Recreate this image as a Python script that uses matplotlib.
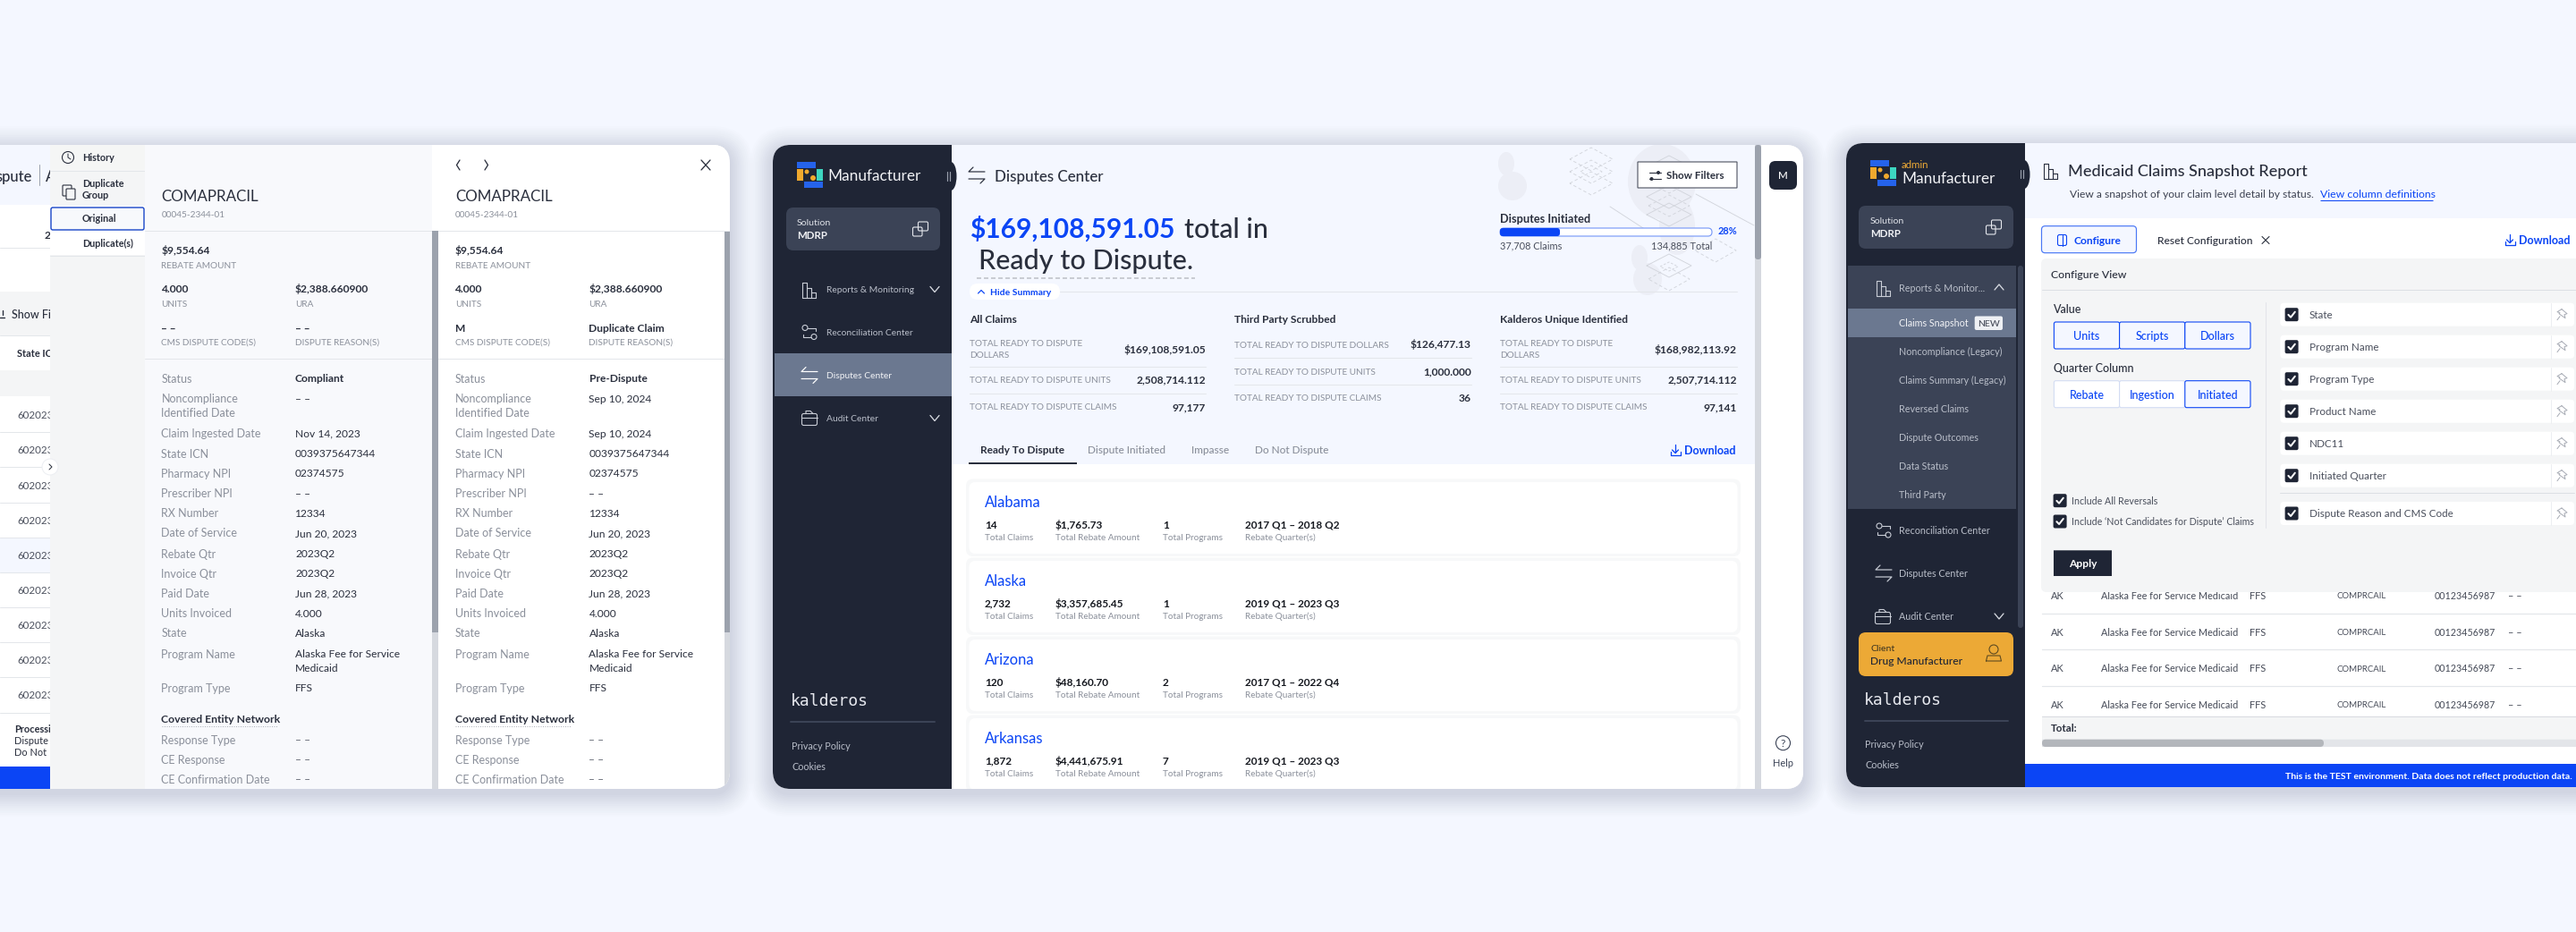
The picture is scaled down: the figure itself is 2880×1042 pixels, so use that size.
import matplotlib
matplotlib.use("Agg")
import matplotlib.pyplot as plt
from matplotlib.patches import FancyBboxPatch, Ellipse, Circle, Rectangle

plt.rcParams['font.family'] = ['Lato', 'DejaVu Sans']

# ---------- content ----------
PRODUCT = "COMAPRACIL"
NDC = "00045-2344-01"
DETAIL_LABELS = ["Status", "Noncompliance\nIdentified Date", "Claim Ingested Date", "State ICN", "Pharmacy NPI",
                 "Prescriber NPI", "RX Number", "Date of Service", "Rebate Qtr", "Invoice Qtr", "Paid Date",
                 "Units Invoiced", "State", "Program Name", "Program Type"]
ORIGINAL_VALUES = ["Compliant", "– –", "Nov 14, 2023", "0039375647344", "02374575", "– –", "12334", "Jun 20, 2023",
                   "2023Q2", "2023Q2", "Jun 28, 2023", "4.000", "Alaska", "Alaska Fee for Service\nMedicaid", "FFS"]
DUPLICATE_VALUES = ["Pre-Dispute", "Sep 10, 2024", "Sep 10, 2024", "0039375647344", "02374575", "– –", "12334",
                    "Jun 20, 2023", "2023Q2", "2023Q2", "Jun 28, 2023", "4.000", "Alaska",
                    "Alaska Fee for Service\nMedicaid", "FFS"]
CE_LABELS = ["Response Type", "CE Response", "CE Confirmation Date"]
BEHIND_IDS = ["6020231", "6020231", "6020231", "6020231", "6020231", "6020231", "6020230", "6020231", "6020230"]
ALL_CLAIMS = ["$169,108,591.05", "2,508,714.112", "97,177"]
THIRD_PARTY = ["$126,477.13", "1,000.000", "36"]
UNIQUE = ["$168,982,113.92", "2,507,714.112", "97,141"]
TABS = ["Ready To Dispute", "Dispute Initiated", "Impasse", "Do Not Dispute"]
STATES = ["Alabama", "Alaska", "Arizona", "Arkansas"]
STATE_CLAIMS = ["14", "2,732", "120", "1,872"]
STATE_REBATE = ["$1,765.73", "$3,357,685.45", "$48,160.70", "$4,441,675.91"]
STATE_PROGRAMS = ["1", "1", "2", "7"]
STATE_QUARTERS = ["2017 Q1 – 2018 Q2", "2019 Q1 – 2023 Q3", "2017 Q1 – 2022 Q4", "2019 Q1 – 2023 Q3"]
SUBMENU = ["Noncompliance (Legacy)", "Claims Summary (Legacy)", "Reversed Claims", "Dispute Outcomes", "Data Status",
           "Third Party"]
VALUE_BUTTONS = ["Units", "Scripts", "Dollars"]
QUARTER_BUTTONS = ["Rebate", "Ingestion", "Initiated"]
COLUMNS = ["State", "Program Name", "Program Type", "Product Name", "NDC11", "Initiated Quarter",
           "Dispute Reason and CMS Code"]
TABLE_ROW = ["AK", "Alaska Fee for Service Medicaid", "FFS", "COMPRCAIL", "00123456987", "– –"]

# ---------- palette ----------
BG = "#f4f7ff"; DARK = "#1f2535"; SLATE = "#3b4356"; STEEL = "#6b7890"; BLUE = "#0b45f5"
GREY = "#8b909b"; INK = "#2a2f3d"; AMBER = "#eca936"; LINE = "#e3e6ea"; PALE = "#f4f5f6"

W, H = 2880, 1042
fig = plt.figure(figsize=(W / 100, H / 100), dpi=100, facecolor=BG)
ax = fig.add_axes([0, 0, 1, 1])
ax.set_xlim(0, W); ax.set_ylim(H, 0); ax.axis("off")

z = [10]; clip = [None]
def nz():
    z[0] += 1
    return z[0]
def _c(a):
    if clip[0] is not None:
        a.set_clip_path(clip[0])
    return a
def R(x0, y0, x1, y1, fc="none", ec="none", lw=0, r=0, alpha=None):
    p = FancyBboxPatch((x0, y0), x1 - x0, y1 - y0, boxstyle=f"round,pad=0,rounding_size={r}", fc=fc, ec=ec,
                       lw=lw * .72, alpha=alpha, zorder=nz(), mutation_aspect=1)
    ax.add_patch(p); return _c(p)
def L(xs, ys, c=INK, lw=1.0, ls="-", **k):
    l, = ax.plot(xs, ys, color=c, lw=lw * .72, ls=ls, zorder=nz(), solid_capstyle=k.pop("cap", "round"), **k)
    return _c(l)
def T(x, y, s, px=12, c=INK, w="normal", ha="left", lh=None, **k):
    """y is the optical centre of the first line, px the font size in pixels."""
    lines = s.split("\n")
    for i, ln in enumerate(lines):
        t = ax.text(x, y + .36 * px + i * (lh or 16), ln, fontsize=px * .72, color=c, fontweight=w, ha=ha,
                    va="baseline", zorder=nz(), clip_on=True, **k)
        _c(t)
def C(cx, cy, r, fc="none", ec="none", lw=1.0):
    p = Circle((cx, cy), r, fc=fc, ec=ec, lw=lw * .72, zorder=nz()); ax.add_patch(p); return _c(p)
def E(cx, cy, rx, ry, fc):
    p = Ellipse((cx, cy), rx * 2, ry * 2, fc=fc, ec="none", zorder=nz()); ax.add_patch(p); return _c(p)

def shadow(x0, y0, x1, y1, r=20):
    for d in range(26, 0, -2):
        R(x0 - d, y0 - d + 5, x1 + d, y1 + d + 5, fc="#6f7a96", r=r + d, alpha=.012 + (26 - d) * .0006)

def i_bars(cx, cy, c="#c9cdd6", s=1.0):
    x = cx - 8 * s; b = cy + 8.5 * s
    L([x, x, x + 5 * s, x + 5 * s], [b, cy - 8.5 * s, cy - 8.5 * s, b], c, 1.1)
    L([x + 5 * s, x + 10 * s, x + 10 * s], [cy - 2 * s, cy - 2 * s, b], c, 1.1)
    L([x + 10 * s, x + 15 * s, x + 15 * s], [cy + 3 * s, cy + 3 * s, b], c, 1.1)
    L([x, x + 15 * s], [b, b], c, 1.1)
def i_arrows(cx, cy, c="#c9cdd6", s=1.0):
    L([cx + 9 * s, cx - 9 * s, cx - 4 * s], [cy - 4 * s, cy - 4 * s, cy - 9 * s], c, 1.2)
    L([cx - 9 * s, cx + 9 * s, cx + 4 * s], [cy + 4 * s, cy + 4 * s, cy + 9 * s], c, 1.2)
def i_recon(cx, cy, c="#c9cdd6"):
    C(cx - 5, cy - 5, 3, ec=c, lw=1.1); C(cx + 5, cy + 5, 3, ec=c, lw=1.1)
    L([cx - 2, cx + 7, cx + 7], [cy - 5, cy - 5, cy - 2], c, 1.1)
    L([cx + 2, cx - 7, cx - 7], [cy + 5, cy + 5, cy + 2], c, 1.1)
def i_case(cx, cy, c="#c9cdd6"):
    R(cx - 8.5, cy - 5, cx + 8.5, cy + 8, ec=c, lw=1.1, r=2)
    L([cx - 8.5, cx + 8.5], [cy - 1, cy - 1], c, 1.1)
    L([cx - 4, cx - 4, cx + 1, cx + 4], [cy - 5, cy - 8, cy - 8, cy - 5], c, 1.1)
def i_copy(cx, cy, c="#e6e8ee"):
    R(cx - 8.5, cy - 2, cx + 2, cy + 8, ec=c, lw=1.1, r=1.5)
    R(cx - 2.5, cy - 8, cx + 8.5, cy + 2, ec=c, lw=1.1, r=1.5)
def i_chev(cx, cy, up=False, c="#d7dae1", s=5):
    d = -1 if up else 1
    L([cx - s, cx, cx + s], [cy - d * 3, cy + d * 3, cy - d * 3], c, 1.3)
def i_download(cx, cy, c=BLUE):
    L([cx, cx], [cy - 6, cy + 3], c, 1.3); L([cx - 3.5, cx, cx + 3.5], [cy, cy + 3.5, cy], c, 1.3)
    L([cx - 5.5, cx - 5.5, cx + 5.5, cx + 5.5], [cy + 2, cy + 6, cy + 6, cy + 2], c, 1.3)
def i_check(x0, cy, s=15):
    R(x0, cy - s / 2, x0 + s, cy + s / 2, fc=DARK, r=2)
    L([x0 + 3.8, x0 + 6.5, x0 + 11.2], [cy + .2, cy + 3, cy - 3], "white", 2)
def i_pin(cx, cy, c="#a9adb6"):
    L([cx - 1, cx + 5, cx + 2, cx + 3, cx - 4, cx - 3, cx - 6, cx - 1], [cy - 6, cy - 1, cy, cy + 4, cy - 1, cy - 2, cy - 3, cy - 6], c, 1)
    L([cx - 3, cx - 6], [cy + 2, cy + 6], c, 1)
def logo(x, y):
    R(x, y, x + 21, y + 7, fc="#2563eb"); R(x, y + 8, x + 7, y + 21, fc="#f0a92e")
    C(x + 11, y + 11, 2.5, fc="#f0a92e"); C(x + 18, y + 18, 3, fc="#f0a92e")
    R(x + 22, y + 8, x + 29, y + 21, fc="#3dd6c0"); R(x + 8, y + 22, x + 29, y + 29, fc="#2563eb")
def diamond(cx, cy, hw, hh, ls="-", c="#d2d5dc"):
    L([cx - hw, cx, cx + hw, cx, cx - hw], [cy, cy - hh, cy, cy + hh, cy], c, .9, ls=ls)

# =============== CARD 1 ===============
shadow(-60, 162, 816, 882)
card1 = R(-60, 162, 816, 882, fc="white", r=20); clip[0] = card1
R(0, 162, 60, 229, fc=BG)
T(36, 197, "spute", 16.5, INK, "medium", ha="right"); L([44, 44], [184, 207], "#9ca3af", 1); T(51, 197, "A", 16.5, INK, "medium")
T(50, 263, "2", 12, INK, "bold"); L([0, 60], [277, 277], LINE)
R(0, 326, 60, 375, fc=PALE); T(13, 351, "Show Filters", 12.5, INK, "medium")
L([0, 5], [355, 355], INK, 1.4); L([2.5, 2.5], [347, 352], INK, 1.4)
L([0, 60], [375, 375], LINE); T(19, 395, "State ICN", 11, INK, "bold"); L([0, 60], [414, 414], LINE)
R(0, 414, 60, 443, fc=PALE); R(0, 601, 60, 640, fc=BG)
row_lines = [483, 522, 562, 601, 640, 679, 718, 757, 797]
row_text = [464, 503, 543, 582, 621, 660, 699, 738, 777]
for yy, txt in zip(row_text, BEHIND_IDS):
    T(19, yy, txt, 11.5, "#4a4f5c")
for yy in row_lines:
    L([0, 60], [yy, yy], LINE, 1)
T(16, 815, "Processing", 11, INK, "bold"); T(16, 828, "Dispute", 11, INK); T(16, 841, "Do Not Dispute", 11, INK)
R(0, 857, 60, 882, fc=BLUE)

# left nav of the overlay
R(56, 162, 162, 882, fc=PALE)
R(56, 162, 162, 190, fc="#f5f6f5"); L([56, 162], [190.5, 190.5], LINE)
C(76, 176, 6.5, ec=INK, lw=1.1); L([76, 76, 79], [172, 176, 178], INK, 1)
T(92, 176, "History", 10.7, INK, "bold")
R(70, 207, 80, 219, ec=INK, lw=1.1, r=1); R(74, 211, 84, 223, fc=PALE, ec=INK, lw=1.1, r=1)
T(92, 205, "Duplicate\nGroup", 10.7, INK, "bold", lh=13)
R(56, 230, 162, 285, fc="white")
R(57, 232, 161, 257, fc="#f7f9fc", ec="#1946c8", lw=1.4, r=2)
T(92, 244.5, "Original", 10.7, INK, "bold"); T(92, 272, "Duplicate(s)", 10.7, INK, "bold")
L([56, 162], [285.5, 285.5], LINE)

# duplicate-claim panels
for (px0, px1, x1, x2, vals, code, reason) in [(162, 483, 180.5, 330, ORIGINAL_VALUES, "– –", "– –"),
                                               (490, 810, 509, 658.5, DUPLICATE_VALUES, "M", "Duplicate Claim")]:
    R(px0, 162, px1, 882, fc="#f8f9fc" if px0 == 162 else "white")
    T(x1, 219, PRODUCT, 17, INK)
    T(x1, 239, NDC, 10, GREY)
    L([px0, px1 + (7 if px0 == 162 else 6)], [258, 258], LINE)
    L([px0, px1], [401, 401], LINE)
    T(x1, 280, "$9,554.64", 12, INK, "bold"); T(x1, 296, "REBATE AMOUNT", 10, GREY)
    T(x1, 323, "4.000", 12, INK, "bold"); T(x1, 339, "UNITS", 10, GREY)
    T(x2, 323, "$2,388.660900", 12, INK, "bold"); T(x2, 339, "URA", 10, GREY)
    T(x1, 367, code, 12, INK, "bold"); T(x1, 382, "CMS DISPUTE CODE(S)", 10, GREY)
    T(x2, 367, reason, 12, INK, "bold"); T(x2, 382, "DISPUTE REASON(S)", 10, GREY)
    ys = [423, 446, 484.5, 507, 529, 552, 574, 596, 619, 641, 663.5, 686, 708, 731, 769]
    for i, (yy, lab, v) in enumerate(zip(ys, DETAIL_LABELS, vals)):
        T(x1, yy, lab, 12.5, GREY)
        T(x2, yy, v, 12, INK, "bold" if i == 0 else "normal")
    T(x1, 804, "Covered Entity Network", 12.3, INK, "bold")
    L([x1, x1 + 129], [811.5, 811.5], "#aeb2bb", 1, ls=(0, (1, 1.5)))
    for yy, lab in zip([827, 849, 871], CE_LABELS):
        T(x1, yy, lab, 12.5, GREY); T(x2, yy, "– –", 12, "#5a5f6b")
for sx in (483, 810):
    R(sx, 258, sx + 7, 882, fc="#d6d9df")
    R(sx, 258, sx + 7, 707, fc="#9ca2ad")
R(490, 162, 810, 258, fc="white")
L([514, 510.5, 514], [179, 184.5, 190], INK, 1.3); L([542, 545.5, 542], [179, 184.5, 190], INK, 1.3)
L([784, 794], [179, 190], INK, 1.3); L([794, 784], [179, 190], INK, 1.3)
T(509, 219, PRODUCT, 17, INK); T(509, 239, NDC, 10, GREY); L([490, 816], [258, 258], LINE)
C(56, 522, 9, fc="white", ec="#eceef2"); L([55, 58, 55], [519, 522, 525], INK, 1)
clip[0] = None

# =============== CARD 2 ===============
shadow(864, 162, 2016, 882)
card2 = R(864, 162, 2016, 882, fc="white", r=20); clip[0] = card2
R(1064, 162, 1962, 519, fc=BG)
R(1064, 519, 1962, 882, fc="white")
# decoration
for cx, cy, rx, ry in [(1691, 208, 16, 16), (1684, 183, 9, 13), (1858, 203, 38, 42), (1875, 253, 20, 32),
                       (1842, 312, 16, 18), (1833, 288, 9, 14)]:
    E(cx, cy, rx, ry, "#eceef6")
for cy in (178, 192, 205):
    diamond(1779, cy, 24, 13, ls=(0, (4, 3)))
diamond(1779, 192, 12, 7, ls=(0, (4, 3)))
for cy in (187, 220, 240):
    diamond(1866, cy, 25, 13)
for cy in (204, 230):
    diamond(1866, cy, 23, 12, ls=(0, (4, 3)))
diamond(1866, 297, 25, 13); diamond(1866, 298, 10, 5, ls=(0, (3, 2))); diamond(1866, 312, 23, 13, ls=(0, (4, 3)))
diamond(1918, 280, 23, 13, ls=(0, (4, 3)))
L([1800, 1837], [231, 255], "#d2d5dc", .9); L([1896, 1961], [217, 252], "#d2d5dc", .9)
# sidebar
R(864, 162, 1064, 882, fc=DARK)
E(1063, 197, 6.5, 16, DARK)
L([1058.5, 1058.5], [192, 202], "#9aa0ad", 1.2); L([1061.5, 1061.5], [192, 202], "#9aa0ad", 1.2)
logo(891, 181)
T(925, 196, "Manufacturer", 17.2, "#f2f3f6")
R(879, 232, 1051, 280, fc=SLATE, r=8)
T(891, 248, "Solution", 10.5, "#dfe2e8"); T(891, 263, "MDRP", 11.5, "#f2f3f6", "bold"); i_copy(1029, 256)
i_bars(905, 324); T(923.5, 323.7, "Reports & Monitoring", 10.3, "#b9bec9"); i_chev(1045, 323.5)
i_recon(905, 371.5); T(923.5, 371.7, "Reconciliation Center", 10.3, "#b9bec9")
R(866, 395, 1064, 443, fc=STEEL); i_arrows(905, 419.5, "white"); T(923.5, 419.7, "Disputes Center", 10.3, "#f2f3f6")
i_case(905, 467.5); T(923.5, 467.7, "Audit Center", 10.3, "#b9bec9"); i_chev(1045, 467.5)
T(884, 783, "kalderos", 18, "#e6e8ee", family="DejaVu Sans Mono")
L([884, 1045], [807, 807], SLATE, 2)
T(885, 834, "Privacy Policy", 10.8, "#b9bec9"); T(885, 857, "Cookies", 10.8, "#b9bec9")
# header
i_arrows(1092, 196, INK); T(1112.5, 197, "Disputes Center", 17, INK, "medium")
T(1084, 255, ALL_CLAIMS[0], 30, BLUE, "bold"); T(1324, 255, "total in", 30.5, INK, "medium")
T(1094, 290.5, "Ready to Dispute.", 30.5, INK, "medium")
L([1092, 1336], [311, 311], "#c9ccd3", 2, ls=(0, (2.5, 1.5)), cap="butt")
L([1185, 1942], [325.5, 325.5], LINE)
R(1084, 317, 1185, 335, fc="white", ec="#e6e8ec", r=9)
L([1093.5, 1097, 1100.5], [328, 324.5, 328], BLUE, 1.2); T(1107, 326, "Hide Summary", 10.4, BLUE, "bold")
# progress
T(1677, 244, "Disputes Initiated", 12.7, INK, "bold")
R(1677, 255, 1914, 264, fc="white", ec="#7c9cf7", lw=1.2, r=4.5)
R(1677, 255, 1744, 264, fc=BLUE, r=3)
T(1921, 258, "28%", 11, BLUE, "bold"); T(1677, 274, "37,708 Claims", 11, "#4a4f5c"); T(1914, 274, "134,885 Total", 11, "#4a4f5c", ha="right")
R(1831, 181, 1942, 210, fc="white", ec="#4a4f5c", lw=1.1)
L([1844, 1857], [193, 193], INK, 1.1); L([1844, 1857], [200, 200], INK, 1.1)
C(1854, 193, 2, fc=INK); C(1846.5, 200, 2, fc=INK)
T(1863, 196, "Show Filters", 11.6, INK, "bold")
# summary tables
for x0, x1, title in [(1084, 1348, "All Claims"), (1380, 1645, "Third Party Scrubbed"), (1677, 1942, "Kalderos Unique Identified")]:
    T(x0, 357, title, 12, INK, "bold")
for x0, x1, vals in [(1084, 1348, ALL_CLAIMS), (1677, 1942, UNIQUE)]:
    T(x0, 383.7, "TOTAL READY TO DISPUTE\nDOLLARS", 10, GREY, lh=13); T(x1, 390.7, vals[0], 12, INK, "bold", ha="right")
    L([x0, x1], [409.5, 409.5], LINE)
    T(x0, 424, "TOTAL READY TO DISPUTE UNITS", 10, GREY); T(x1, 424.5, vals[1], 12, INK, "bold", ha="right")
    L([x0, x1], [439.5, 439.5], LINE)
    T(x0, 454.5, "TOTAL READY TO DISPUTE CLAIMS", 10, GREY); T(x1, 455, vals[2], 12, INK, "bold", ha="right")
T(1380, 385, "TOTAL READY TO DISPUTE DOLLARS", 10, GREY); T(1645, 385, THIRD_PARTY[0], 12, INK, "bold", ha="right")
L([1380, 1645], [400, 400], LINE)
T(1380, 415, "TOTAL READY TO DISPUTE UNITS", 10, GREY); T(1645, 415, THIRD_PARTY[1], 12, INK, "bold", ha="right")
L([1380, 1645], [429.5, 429.5], LINE)
T(1380, 444.5, "TOTAL READY TO DISPUTE CLAIMS", 10, GREY); T(1645, 445, THIRD_PARTY[2], 12, INK, "bold", ha="right")
# tabs
for x, lab, col, wt in zip([1096.4, 1216, 1332, 1403], TABS, [INK, GREY, GREY, GREY], ["bold", "medium", "medium", "medium"]):
    T(x, 503, lab, 11.9, col, wt)
L([1083, 1204], [518, 518], INK, 2, cap="butt")
i_download(1873, 503); T(1883, 503, "Download", 12.5, BLUE, "bold")
# state cards
for i, st in enumerate(STATES):
    dy = 88 * i
    R(1080, 535.5 + dy, 1946, 622 + dy, fc="#f7f8f9", r=8)
    R(1083.5, 539 + dy, 1942.5, 619 + dy, fc="white", r=7)
    T(1101, 561 + dy, st, 16.5, BLUE)
    for x, val, lab in zip([1101, 1180, 1300, 1392], [STATE_CLAIMS[i], STATE_REBATE[i], STATE_PROGRAMS[i], STATE_QUARTERS[i]],
                           ["Total Claims", "Total Rebate Amount", "Total Programs", "Rebate Quarter(s)"]):
        T(x, 586.5 + dy, val, 11.7, "#15181f", "bold"); T(x, 600.5 + dy, lab, 10, GREY)
# scrollbar + rail
R(1962, 162, 1969, 882, fc="#d6d9df"); R(1962, 162, 1969, 290, fc="#9ca2ad", r=3)
R(1969, 162, 2016, 882, fc="white")
R(1978, 180, 2009, 212, fc=DARK, r=7); T(1993.5, 196, "M", 11.5, "white", "medium", ha="center")
C(1993.5, 830.7, 8, ec=SLATE, lw=1.1); T(1993.5, 830.5, "?", 12, SLATE, ha="center")
T(1993.5, 853, "Help", 11, SLATE, ha="center")
clip[0] = None

# =============== CARD 3 ===============
shadow(2064, 160, 2940, 880)
card3 = R(2064, 160, 2940, 880, fc="white", r=20); clip[0] = card3
R(2264, 160, 2880, 244, fc=BG)
R(2064, 160, 2264, 880, fc=DARK)
E(2263, 195, 6.5, 16, DARK)
L([2259, 2259], [190, 199], "#9aa0ad", 1.2); L([2262, 2262], [190, 199], "#9aa0ad", 1.2)
logo(2091, 179)
T(2126, 184, "admin", 11.5, AMBER); T(2126, 199, "Manufacturer", 17.2, "#f2f3f6")
R(2078, 230, 2251, 278, fc=SLATE, r=8)
T(2091, 246, "Solution", 10.5, "#dfe2e8"); T(2091, 261, "MDRP", 11.5, "#f2f3f6", "bold"); i_copy(2229, 254)
R(2066, 297, 2254, 569, fc=SLATE)
R(2256, 297, 2262, 702, fc=SLATE, r=3)
i_bars(2106, 322); T(2123, 321.7, "Reports & Monitor...", 10.8, "#b9bec9"); i_chev(2235, 321, up=True)
R(2066, 345, 2254, 377, fc=STEEL); T(2123, 361.5, "Claims Snapshot", 10.8, "#f2f3f6")
R(2207.7, 353.5, 2239, 369, fc="#eef0f4", r=2); T(2223.3, 361.5, "NEW", 10.5, "#4a4f5c", "medium", ha="center")
for yy, lab in zip([393.5, 425.5, 457.5, 489.5, 521.5, 553], SUBMENU):
    T(2123, yy, lab, 10.8, "#b9bec9")
i_recon(2106, 593); T(2123, 593, "Reconciliation Center", 10.8, "#b9bec9")
i_arrows(2106, 641, "#c9cdd6"); T(2123, 641.5, "Disputes Center", 10.8, "#b9bec9")
i_case(2105, 689.5); T(2123, 689.5, "Audit Center", 10.8, "#b9bec9"); i_chev(2235, 689)
R(2078, 707, 2251, 756, fc=AMBER, r=8)
T(2091, 724, "Client", 10.5, "#3a3320"); T(2091, 739, "Drug Manufacturer", 12, DARK, "medium")
C(2229, 726, 5, ec="#5d4a20", lw=1.1); L([2220.5, 2222, 2236, 2237.5, 2220.5], [739, 733, 733, 739, 739], "#5d4a20", 1.1)
T(2084, 781.7, "kalderos", 18, "#e6e8ee", family="DejaVu Sans Mono")
L([2085, 2245], [806, 806], SLATE, 2)
T(2085, 832, "Privacy Policy", 10.8, "#b9bec9"); T(2085, 855, "Cookies", 10.8, "#b9bec9")
# header
i_bars(2293, 191, INK); T(2312, 191, "Medicaid Claims Snapshot Report", 18, INK, "medium")
T(2314, 217, "View a snapshot of your claim level detail by status.", 12, "#3d4250")
T(2594, 217, "View column definitions", 12.2, BLUE); L([2594, 2720], [224, 224], BLUE, 1, cap="butt")
R(2282.5, 252.7, 2388.5, 282.7, fc=BG, ec="#4a78f5", lw=1.2, r=4)
R(2300.5, 262.5, 2310.5, 274.5, ec=BLUE, lw=1.1, r=2); L([2305.5, 2305.5], [262.5, 274.5], BLUE, 1.1)
T(2318.5, 268.6, "Configure", 12, BLUE, "bold"); T(2411.5, 268.6, "Reset Configuration", 12, INK, "medium")
L([2529, 2537], [264.5, 272.5], INK, 1.1); L([2537, 2529], [264.5, 272.5], INK, 1.1)
i_download(2806, 268); T(2816, 268.6, "Download", 12.5, BLUE, "bold")
# table
for yy, ln in zip([666, 707, 747.5, 788], [686, 726, 767, None]):
    for x, v, sz in zip([2293, 2349.4, 2515, 2612.7, 2721.5, 2804.5], TABLE_ROW, [11, 10.9, 11, 9.6, 10.6, 11]):
        T(x, yy, v, sz, "#454a57")
    if ln:
        L([2283, 2880], [ln, ln], LINE, 1.2)
R(2283, 800.7, 2880, 835, fc=PALE); L([2283, 2880], [800.7, 800.7], "#d9dce1")
T(2293, 814, "Total:", 11.5, INK, "bold")
R(2283, 826.7, 2880, 835, fc="#e3e5e9"); R(2283, 826.7, 2598, 835, fc="#b3b6bb", r=4)
R(2264, 854, 2880, 880, fc=BLUE)
T(2876, 867.5, "This is the TEST environment. Data does not reflect production data.", 10.5, "white", "bold", ha="right")
# configure panel
R(2282, 289, 2890, 662, fc=PALE, r=6)
T(2293, 307, "Configure View", 12.2, INK, "medium"); L([2283, 2880], [324, 324], "#dcdfe4")
T(2296.4, 346, "Value", 12.5, INK, "medium"); T(2296.4, 411.7, "Quarter Column", 12.5, INK, "medium")
bw = (2516 - 2296.4) / 3
for j, lab in enumerate(VALUE_BUTTONS):
    R(2296.4 + j * bw, 360, 2296.4 + (j + 1) * bw, 390, fc=BG, ec=BLUE, lw=1.1, r=2)
    T(2296.4 + (j + .5) * bw, 376, lab, 12.5, BLUE, "medium", ha="center")
for j, lab in enumerate(QUARTER_BUTTONS):
    on = j == 2
    R(2296.4 + j * bw, 425.7, 2296.4 + (j + 1) * bw, 455.7, fc=BG if on else "white", ec=BLUE if on else "#d3dcf3", lw=1.1, r=2)
    T(2296.4 + (j + .5) * bw, 442, lab, 12.5, BLUE, "medium", ha="center")
L([2533, 2533], [338, 590], "#e2e4e9")
for yy, lab in zip([351.7, 387.7, 423.7, 459.7, 495.7, 531.7, 574], COLUMNS):
    R(2549.4, yy - 13, 2878, yy + 13, fc="white", r=4)
    i_check(2554.6, yy); T(2582, yy, lab, 11.6, "#4a4f5c")
    L([2852, 2852], [yy - 13, yy + 13], "#eceef1"); i_pin(2865, yy)
L([2549, 2878], [550.7, 550.7], "#dcdfe4")
i_check(2295.6, 559.7); T(2316, 559.7, "Include All Reversals", 10.6, "#4a4f5c")
i_check(2295.6, 583); T(2316, 583, "Include ‘Not Candidates for Dispute’ Claims", 10.6, "#4a4f5c")
R(2296, 615.3, 2361, 644, fc=DARK); T(2328.5, 630, "Apply", 12, "white", "bold", ha="center")
clip[0] = None

fig.savefig("out.png", dpi=100, facecolor=BG)
